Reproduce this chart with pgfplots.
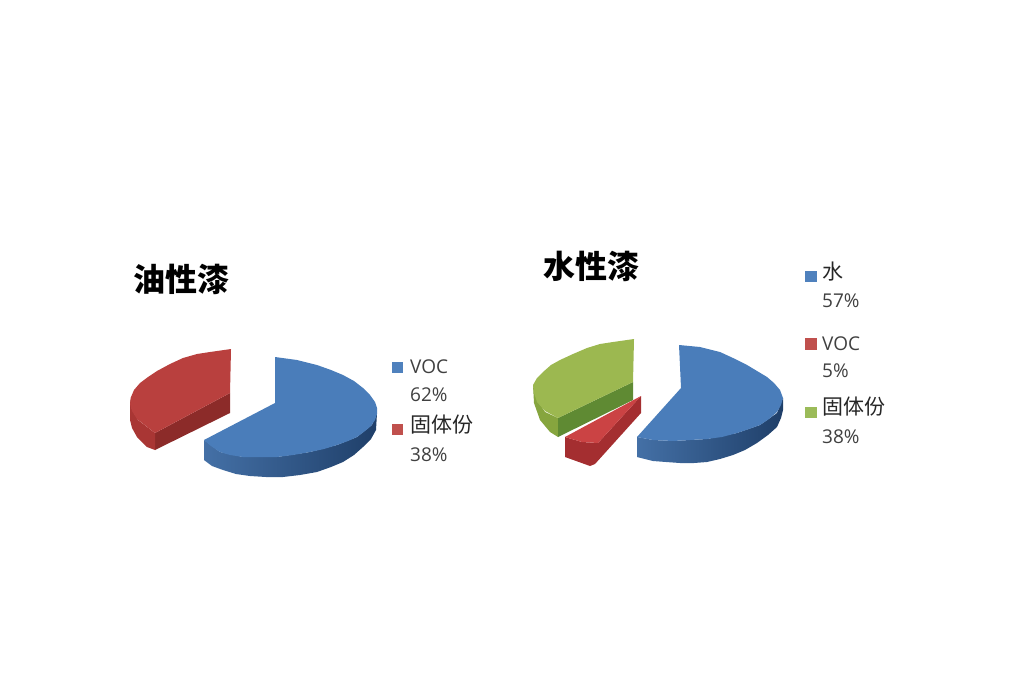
\documentclass[border=0pt]{standalone}
\usepackage{fontspec}
\setmainfont{Open Sans}
\newfontfamily\cjk{Noto Sans CJK SC}
\usepackage{pgfplots}
\pgfplotsset{compat=1.18}
\definecolor{blueTop}{HTML}{4A7DBA}
\definecolor{blueSideA}{HTML}{4470A6}
\definecolor{blueSideB}{HTML}{1F3F69}
\definecolor{redTop}{HTML}{B9403E}
\definecolor{redIn}{HTML}{8C2B29}
\definecolor{redSide}{HTML}{A93634}
\definecolor{wedgeTop}{HTML}{CB4344}
\definecolor{wedgeSide}{HTML}{A42E30}
\definecolor{greenTop}{HTML}{9CB850}
\definecolor{greenIn}{HTML}{5F8A33}
\definecolor{greenSide}{HTML}{86A53E}
\definecolor{legBlue}{HTML}{4F81BD}
\definecolor{legRed}{HTML}{C0504D}
\definecolor{legGreen}{HTML}{9BBB59}
\definecolor{txt}{HTML}{404040}
\tikzset{
	lab/.style={anchor=west, inner sep=0pt, text=txt, font=\fontsize{19}{22}\selectfont},
	cjklab/.style={anchor=west, inner sep=0pt, text=black!85, font=\fontsize{21}{24}\selectfont\cjk},
	ttl/.style={anchor=west, inner sep=0pt, text=black, font=\fontsize{32}{35}\selectfont\cjk\bfseries},
}
\begin{document}
\begin{tikzpicture}
\begin{axis}[
	scale only axis, width=1024pt, height=680pt,
	xmin=0, xmax=1024, ymin=0, ymax=680, y dir=reverse,
	hide axis,
	every axis plot/.append style={draw=none, no markers, line width=0pt},
]
% oil paint: blue slice, side then top
\addplot[left color=blueSideA, right color=blueSideB] coordinates {
	(204,440) (204,460) (212,466) (223,470) (236,474) (250,476) (266,477) (283,477) (300,475) (317,472)
	(331,467) (343,462) (354,455) (363,447) (371,439) (376,430) (377,413) (372,425) (357,437) (337,445)
	(310,452) (277,457) (243,457) (220,452) (204,440)} -- cycle;
\addplot[fill=blueTop] coordinates {
	(275,403) (275,357) (297,360) (317,365) (331,370) (343,375) (354,381) (363,388)
	(370,395) (375,402) (377,408) (377,414) (375,420) (371,426) (365,431) (357,437) (348,441) (337,445)
	(324,449) (310,452) (293,455) (277,457) (260,457) (243,457) (230,455) (220,452)
	(211,446) (204,440)} -- cycle;
% oil paint: red slice
\addplot[fill=redIn] coordinates {(155,433) (230,393) (230,413) (155,450)} -- cycle;
\addplot[fill=redSide] coordinates {
	(130,397) (130,420) (132,428) (137,437) (147,447) (155,450) (155,433) (138,420) (132,410)} -- cycle;
\addplot[fill=redTop] coordinates {
	(230,393) (231,349) (210,352) (197,354) (183,358) (170,364) (157,371) (148,377) (140,383)
	(134,390) (131,397) (130,404) (132,411) (137,419) (146,426) (155,433)} -- cycle;
% water paint: blue slice
\addplot[left color=blueSideA, right color=blueSideB] coordinates {
	(637,437) (637,457) (653,461) (666,462) (680,463) (694,463) (707,462) (720,459) (733,455) (745,450) (757,443)
	(768,435) (777,427) (781,418) (783,410) (783,398) (777,413) (760,425) (737,433) (707,439)
	(673,441) (653,440) (637,437)} -- cycle;
\addplot[fill=blueTop] coordinates {
	(681,388) (679,345) (700,347) (720,352) (733,358) (747,365) (757,371) (767,377) (774,383) (780,390)
	(783,398) (781,405) (777,412) (769,419) (760,425) (749,429) (737,433) (722,437) (707,439)
	(690,440) (673,441) (653,440) (637,437)} -- cycle;
% water paint: green slice
\addplot[fill=greenSide] coordinates {
	(533,385) (534,403) (540,420) (550,432) (558,437) (558,418) (545,412) (537,400)} -- cycle;
\addplot[fill=greenIn] coordinates {(558,418) (633,382) (633,400) (558,437)} -- cycle;
\addplot[fill=greenTop] coordinates {
	(633,382) (634,339) (613,342) (600,344) (587,348) (573,354) (560,360) (551,365) (543,372)
	(537,378) (533,385) (534,393) (537,402) (545,411) (558,418)} -- cycle;
% water paint: red wedge
\addplot[fill=wedgeSide] coordinates {
	(565,437) (565,457) (590,466) (595,464) (641,413) (641,396) (598,443) (582,442)} -- cycle;
\addplot[fill=wedgeTop] coordinates {(641,396) (565,437) (582,442) (598,443)} -- cycle;
% legend keys
\addplot[fill=legBlue] coordinates {(392,362) (403,362) (403,373) (392,373)} -- cycle;
\addplot[fill=legRed] coordinates {(392,424) (403,424) (403,435) (392,435)} -- cycle;
\addplot[fill=legBlue] coordinates {(805,271) (817,271) (817,282) (805,282)} -- cycle;
\addplot[fill=legRed] coordinates {(805,338) (817,338) (817,350) (805,350)} -- cycle;
\addplot[fill=legGreen] coordinates {(805,407) (817,407) (817,418) (805,418)} -- cycle;
% titles and legend text
\node[ttl] at (axis cs:133,279) {油性漆};
\node[ttl] at (axis cs:543,266) {水性漆};
\node[lab] at (axis cs:410,367) {VOC};
\node[lab] at (axis cs:410,395) {62\%};
\node[cjklab] at (axis cs:410,425) {固体份};
\node[lab] at (axis cs:410,455) {38\%};
\node[cjklab] at (axis cs:822,272) {水};
\node[lab] at (axis cs:822,301) {57\%};
\node[lab] at (axis cs:822,344) {VOC};
\node[lab] at (axis cs:822,371) {5\%};
\node[cjklab] at (axis cs:822,407) {固体份};
\node[lab] at (axis cs:822,437) {38\%};
\end{axis}
\path (0,0) rectangle (1024pt,680pt);
\end{tikzpicture}
\end{document}
